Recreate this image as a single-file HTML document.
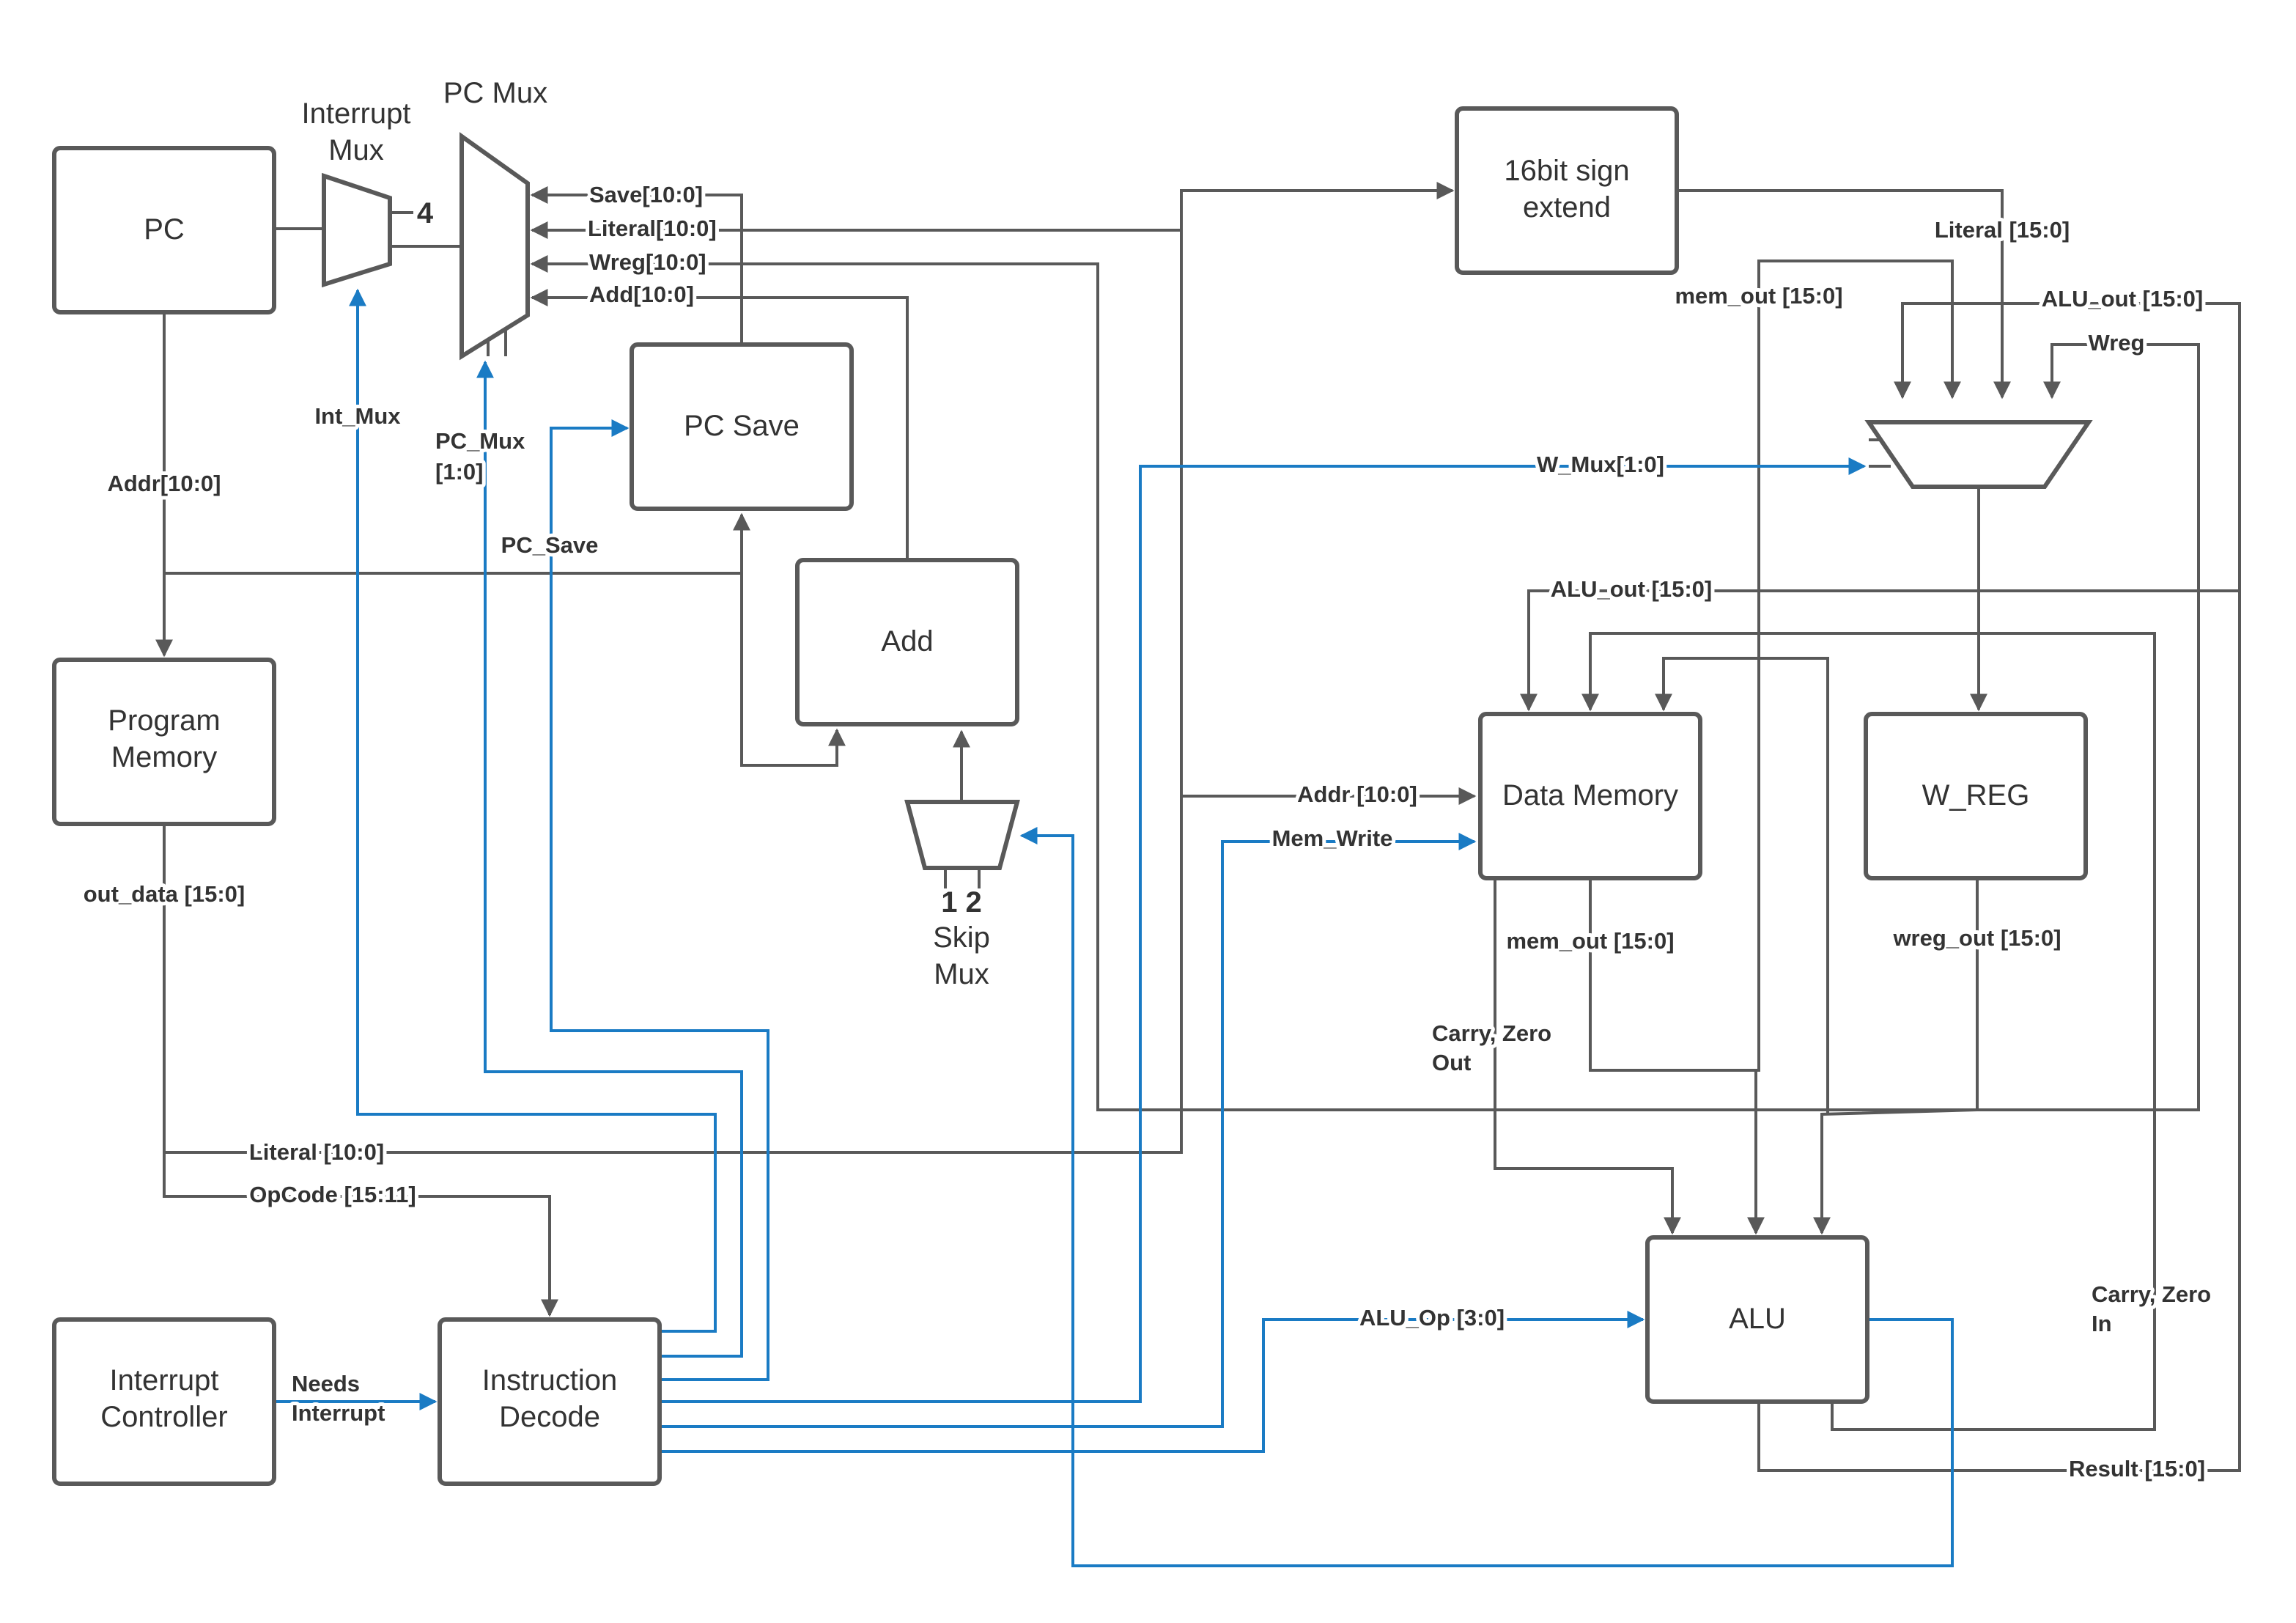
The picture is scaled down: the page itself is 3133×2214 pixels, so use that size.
<!DOCTYPE html>
<html><head><meta charset="utf-8"><style>
html,body{margin:0;padding:0;background:#fff;}
svg{display:block;}
text{font-family:"Liberation Sans",sans-serif;}
.b{fill:#fff;stroke:#595959;stroke-width:3;}
.g{fill:none;stroke:#595959;stroke-width:2;}
.u{fill:none;stroke:#1a7bc4;stroke-width:2;}
.t{font-size:20px;fill:#333;text-anchor:middle;}
.l{font-size:15.5px;font-weight:bold;fill:#333;text-anchor:middle;paint-order:stroke;stroke:#fff;stroke-width:5px;stroke-linejoin:round;}
.ll{font-size:15.5px;font-weight:bold;fill:#333;paint-order:stroke;stroke:#fff;stroke-width:5px;stroke-linejoin:round;}
</style></head><body>
<svg width="3133" height="2214" viewBox="0 0 1566.5 1107" xmlns="http://www.w3.org/2000/svg">
<defs>
<marker id="ag" viewBox="0 0 10 10" refX="9" refY="5" markerWidth="12" markerHeight="12" orient="auto" markerUnits="userSpaceOnUse"><path d="M0,0 L10,5 L0,10 z" fill="#595959"/></marker>
<marker id="ab" viewBox="0 0 10 10" refX="9" refY="5" markerWidth="12" markerHeight="12" orient="auto" markerUnits="userSpaceOnUse"><path d="M0,0 L10,5 L0,10 z" fill="#1a7bc4"/></marker>
</defs>
<g class="g">
<path d="M187,156 H221"/>
<path d="M266,168 H315"/>
<path d="M266,145 H282"/>
<path d="M112,213 V447" marker-end="url(#ag)"/>
<path d="M112,391 H506 V351" marker-end="url(#ag)"/>
<path d="M506,391 V522 H571 V498" marker-end="url(#ag)"/>
<path d="M506,235 V133 H363" marker-end="url(#ag)"/>
<path d="M112,562 V786 H806 V157 H363" marker-end="url(#ag)"/>
<path d="M806,157 V130 H991" marker-end="url(#ag)"/>
<path d="M806,543 H1006" marker-end="url(#ag)"/>
<path d="M1349,599 V757 H749 V180 H363" marker-end="url(#ag)"/>
<path d="M1349,757 H1500 V235 H1400 V271" marker-end="url(#ag)"/>
<path d="M619,382 V203 H363" marker-end="url(#ag)"/>
<path d="M656,547 V499" marker-end="url(#ag)"/>
<path d="M645,592 V606 M668,592 V606"/>
<path d="M333,228 V243 M345,224 V243"/>
<path d="M112,786 V816 H375 V897" marker-end="url(#ag)"/>
<path d="M1144,130 H1366 V271" marker-end="url(#ag)"/>
<path d="M1085,599 V730 H1200 V178 H1332 V271" marker-end="url(#ag)"/>
<path d="M1087,730 H1198 V841" marker-end="url(#ag)"/>
<path d="M1200,956 V1003 H1528 V207 H1298 V271" marker-end="url(#ag)"/>
<path d="M1528,403 H1043 V484" marker-end="url(#ag)"/>
<path d="M1350,332 V484" marker-end="url(#ag)"/>
<path d="M1250,956 V975 H1470 V432 H1085 V484" marker-end="url(#ag)"/>
<path d="M1247,760 V449 H1135 V484" marker-end="url(#ag)"/>
<path d="M1349,757 L1243,760 V841" marker-end="url(#ag)"/>
<path d="M1020,599 V797 H1141 V841" marker-end="url(#ag)"/>
<path d="M1275,300 H1290 M1275,318 H1290"/>
</g>
<g class="u">
<path d="M187,956 H297" marker-end="url(#ab)"/>
<path d="M450,908 H488 V760 H244 V198" marker-end="url(#ab)"/>
<path d="M450,925 H506 V731 H331 V247" marker-end="url(#ab)"/>
<path d="M450,941 H524 V703 H376 V292 H428" marker-end="url(#ab)"/>
<path d="M450,956 H778 V318 H1272" marker-end="url(#ab)"/>
<path d="M450,973 H834 V574 H1006" marker-end="url(#ab)"/>
<path d="M450,990 H862 V900 H1121" marker-end="url(#ab)"/>
<path d="M1274,900 H1332 V1068 H732 V570 H697" marker-end="url(#ab)"/>
</g>
<rect class="b" x="37" y="101" width="150" height="112" rx="4"/>
<rect class="b" x="37" y="450" width="150" height="112" rx="4"/>
<rect class="b" x="37" y="900" width="150" height="112" rx="4"/>
<rect class="b" x="300" y="900" width="150" height="112" rx="4"/>
<rect class="b" x="431" y="235" width="150" height="112" rx="4"/>
<rect class="b" x="544" y="382" width="150" height="112" rx="4"/>
<rect class="b" x="994" y="74" width="150" height="112" rx="4"/>
<rect class="b" x="1010" y="487" width="150" height="112" rx="4"/>
<rect class="b" x="1273" y="487" width="150" height="112" rx="4"/>
<rect class="b" x="1124" y="844" width="150" height="112" rx="4"/>
<polygon class="b" points="221,120 266,135 266,180 221,194"/>
<polygon class="b" points="315,93 360,125 360,215 315,243"/>
<polygon class="b" points="619,547 694,547 682,592 631,592"/>
<polygon class="b" points="1275,288 1425,288 1395,332 1305,332"/>
<text class="t" x="112" y="163">PC</text>
<text class="t" x="112" y="498">Program</text><text class="t" x="112" y="523">Memory</text>
<text class="t" x="112" y="948">Interrupt</text><text class="t" x="112" y="973">Controller</text>
<text class="t" x="375" y="948">Instruction</text><text class="t" x="375" y="973">Decode</text>
<text class="t" x="506" y="297">PC Save</text>
<text class="t" x="619" y="444">Add</text>
<text class="t" x="1069" y="123">16bit sign</text><text class="t" x="1069" y="148">extend</text>
<text class="t" x="1085" y="549">Data Memory</text>
<text class="t" x="1348" y="549">W_REG</text>
<text class="t" x="1199" y="906">ALU</text>
<text class="t" x="243" y="84">Interrupt</text><text class="t" x="243" y="109">Mux</text>
<text class="t" x="338" y="70">PC Mux</text>
<text class="t" x="656" y="646">Skip</text><text class="t" x="656" y="671">Mux</text>
<text class="t" x="656" y="622" style="font-weight:bold">1 2</text>
<text class="t" x="290" y="152" style="font-weight:bold">4</text>
<text class="ll" x="402" y="138">Save[10:0]</text>
<text class="ll" x="401" y="161">Literal[10:0]</text>
<text class="ll" x="402" y="184">Wreg[10:0]</text>
<text class="ll" x="402" y="206">Add[10:0]</text>
<text class="l" x="112" y="335">Addr[10:0]</text>
<text class="l" x="244" y="289">Int_Mux</text>
<text class="ll" x="297" y="306">PC_Mux</text><text class="ll" x="297" y="327">[1:0]</text>
<text class="l" x="375" y="377">PC_Save</text>
<text class="l" x="112" y="615">out_data [15:0]</text>
<text class="l" x="216" y="791">Literal [10:0]</text>
<text class="l" x="227" y="820">OpCode [15:11]</text>
<text class="ll" x="199" y="949">Needs</text><text class="ll" x="199" y="969">Interrupt</text>
<text class="l" x="1366" y="162">Literal [15:0]</text>
<text class="l" x="1200" y="207">mem_out [15:0]</text>
<text class="l" x="1448" y="209">ALU_out [15:0]</text>
<text class="l" x="1444" y="239">Wreg</text>
<text class="l" x="1092" y="322">W_Mux[1:0]</text>
<text class="l" x="1113" y="407">ALU_out [15:0]</text>
<text class="l" x="926" y="547">Addr [10:0]</text>
<text class="l" x="909" y="577">Mem_Write</text>
<text class="l" x="1085" y="647">mem_out [15:0]</text>
<text class="l" x="1349" y="645">wreg_out [15:0]</text>
<text class="ll" x="977" y="710">Carry, Zero</text><text class="ll" x="977" y="730">Out</text>
<text class="l" x="977" y="904">ALU_Op [3:0]</text>
<text class="ll" x="1427" y="888">Carry, Zero</text><text class="ll" x="1427" y="908">In</text>
<text class="l" x="1458" y="1007">Result [15:0]</text>
</svg>
</body></html>
